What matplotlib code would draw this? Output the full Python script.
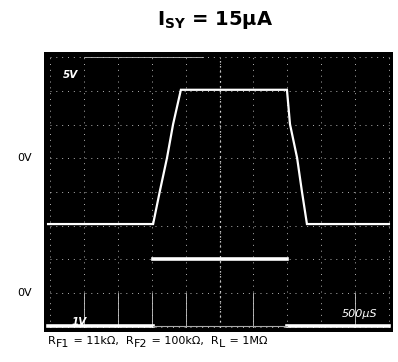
import matplotlib.pyplot as plt

# scope traces, in screen divisions (10 x 8 graticule)
ch1_x = [-0.06, 3.04, 3.24, 3.45, 3.63, 3.86, 6.99, 7.08, 7.29, 7.43, 7.58, 10.0]
ch1_y = [3.05, 3.05, 4.03, 5.01, 6.01, 7.03, 7.03, 6.01, 5.01, 4.03, 3.05, 3.05]

ch2_hi_x = [3.04, 6.99]
ch2_hi_y = [2.01, 2.01]
ch2_lo_left_x = [-0.06, 3.04]
ch2_lo_right_x = [6.99, 10.0]
ch2_lo_y = [0.03, 0.03]
ch2_dim_x = [3.04, 6.99]
ch2_dim_y = [0.03, 0.03]

zero_levels = [5, 1]  # divisions where the 0V labels sit

# caption pieces: (text, is_subscript)
caption = [('R', False), ('F1', True), (' = 11kΩ,  R', False), ('F2', True),
           (' = 100kΩ,  R', False), ('L', True), (' = 1MΩ', False)]

fig = plt.figure(figsize=(3.98, 3.62), dpi=100)
ax = fig.add_axes([44 / 398, 30 / 362, 349 / 398, 280 / 362])
ax.set_facecolor('black')
ax.set_xlim(-0.18, 10.12)
ax.set_ylim(-0.15, 8.15)
ax.set_xticks([])
ax.set_yticks([])
for s in ax.spines.values():
    s.set_visible(False)

# graticule
for i in range(11):
    ax.plot([i, i], [0, 8], color='white', lw=0.7, ls=(0, (1, 5)), alpha=0.7)
for j in range(9):
    ax.plot([0, 10], [j, j], color='white', lw=0.7, ls=(0, (1, 5)), alpha=0.7)
ax.plot([5, 5], [0, 8], color='white', lw=0.9, ls=(0, (1, 3)))
ax.plot([1, 4.5], [8, 8], color='#bbbbbb', lw=0.6)
for i in [1, 2, 3, 4, 6, 9]:
    ax.plot([i, i], [0, 1], color='#cccccc', lw=0.6)

# traces
ax.plot(ch1_x, ch1_y, color='white', lw=1.6, solid_joinstyle='miter')
ax.plot(ch2_hi_x, ch2_hi_y, color='white', lw=2.6)
ax.plot(ch2_lo_left_x, ch2_lo_y, color='white', lw=2.6)
ax.plot(ch2_lo_right_x, ch2_lo_y, color='white', lw=2.6)
ax.plot(ch2_dim_x, ch2_dim_y, color='#aaaaaa', lw=0.8)

# scope annotations
ax.text(0.59, 7.47, '5V', color='white', fontsize=7.5, fontweight='bold',
        style='italic', ha='center', va='center')
ax.text(0.86, 0.15, '1V', color='white', fontsize=7.5, fontweight='bold',
        style='italic', ha='center', va='center')
ax.text(9.12, 0.39, '500μS', color='white', fontsize=8, style='italic',
        ha='center', va='center')

for lv in zero_levels:
    ax.text(-0.55, lv, '0V', fontsize=8, ha='right', va='center')

fig.text(0.54, 0.945, '$\\mathbf{I_{SY}}$ = 15μA', fontsize=14,
         fontweight='bold', ha='center', va='center')

# caption with full-size, lowered subscripts, laid out piece by piece
pieces = [fig.text(0, 0, txt, fontsize=8, ha='left', va='baseline')
          for txt, sub in caption]
fig.canvas.draw()
renderer = fig.canvas.get_renderer()
x_px = 48
for (txt, sub), t in zip(caption, pieces):
    y_px = 344 + (3 if sub else 0)
    t.set_position((x_px / 398, 1 - y_px / 362))
    x_px += t.get_window_extent(renderer).width + (1 if sub else 0)

fig.savefig('out.png', dpi=100, facecolor='white')
